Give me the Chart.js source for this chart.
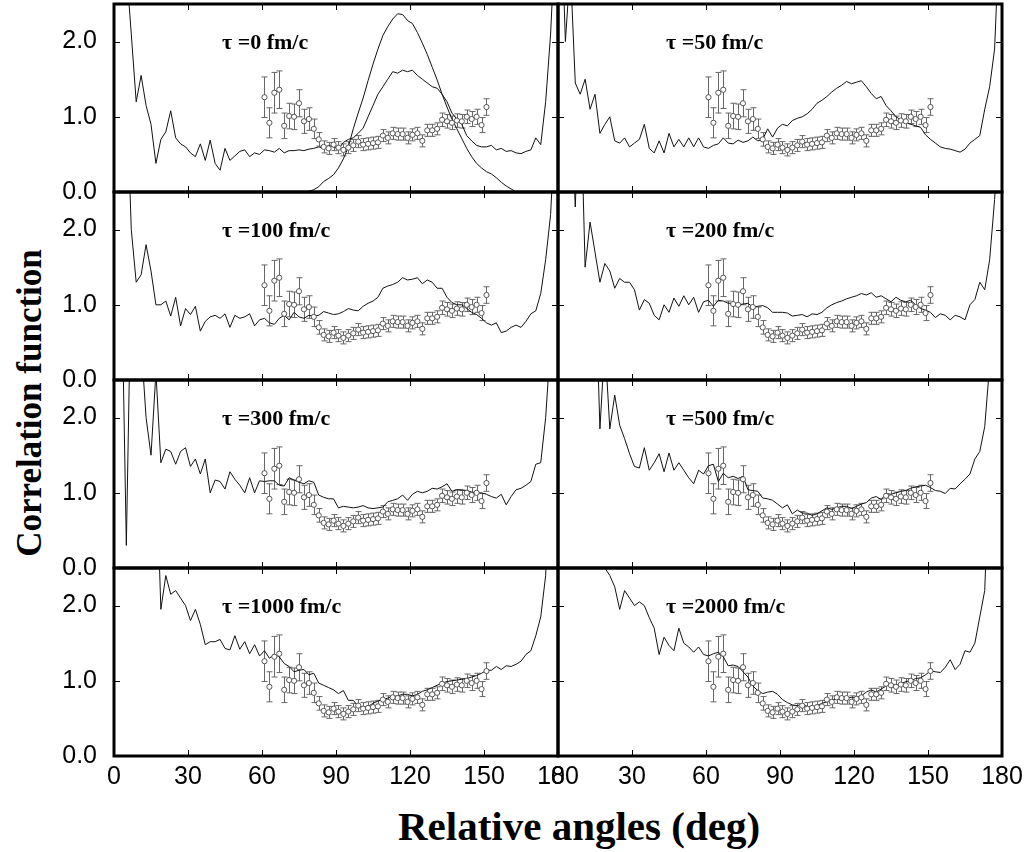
<!DOCTYPE html>
<html>
<head>
<meta charset="utf-8">
<script src="https://cdn.jsdelivr.net/npm/chart.js@4.4.1/dist/chart.umd.min.js"></script>
<style>
  body { margin: 0; background: #fff; width: 1030px; height: 852px; position: relative; overflow: hidden; }
  canvas { position: absolute; }
  .axis-title { position: absolute; font-family: "Liberation Serif", "Times New Roman", serif; font-weight: bold; color: #000; white-space: nowrap; }
</style>
</head>
<body>
<div class="axis-title" id="xTitle" style="left:579px; top:826px; font-size:41px; transform:translate(-50%,-50%);">Relative angles (deg)</div>
<div class="axis-title" id="yTitle" style="left:30px; top:403px; font-size:35px; transform:translate(-50%,-50%) rotate(-90deg);">Correlation function</div>
<script>
// angles of the simulated curves (deg)
const angles = [
  1, 3, 5, 7, 9, 11, 13, 15, 17, 19,
  21, 23, 25, 27, 29, 31, 33, 35, 37, 39,
  41, 43, 45, 47, 49, 51, 53, 55, 57, 59,
  61, 63, 65, 67, 69, 71, 73, 75, 77, 79,
  81, 83, 85, 87, 89, 91, 93, 95, 97, 99,
  101, 103, 105, 107, 109, 111, 113, 115, 117, 119,
  121, 123, 125, 127, 129, 131, 133, 135, 137, 139,
  141, 143, 145, 147, 149, 151, 153, 155, 157, 159,
  161, 163, 165, 167, 169, 171, 173, 175, 177, 179
];

const tau0 = [
  4, 4, 3.0, 2.1, 1.2, 1.55, 1.15, 0.9, 0.38, 0.7,
  0.8, 1.08, 0.72, 0.64, 0.6, 0.52, 0.47, 0.64, 0.42, 0.69,
  0.38, 0.29, 0.58, 0.42, 0.48, 0.54, 0.56, 0.47, 0.52, 0.5,
  0.56, 0.55, 0.53, 0.58, 0.52, 0.55, 0.55, 0.56, 0.55, 0.57,
  0.58, 0.6, 0.58, 0.62, 0.6, 0.57, 0.66, 0.7, 0.72, 0.78,
  0.85, 1.0, 1.15, 1.3, 1.4, 1.5, 1.6, 1.58, 1.62, 1.6,
  1.62, 1.55, 1.5, 1.45, 1.4, 1.38, 1.3, 1.2, 1.05, 0.97,
  0.9, 0.75, 0.68, 0.62, 0.6, 0.6, 0.62, 0.56, 0.58, 0.54,
  0.55, 0.52, 0.51, 0.54, 0.56, 0.72, 0.63, 1.2, 2.1, 3.5
];
// second curve of the first panel
const tau0Peak = [
  null, null, null, null, null, null, null, null, null, null,
  null, null, null, null, null, null, null, null, null, null,
  null, null, null, null, null, null, null, null, null, null,
  null, null, null, null, null, null, null, null, 0.0, 0.01,
  0.03, 0.07, 0.14, 0.18, 0.23, 0.32, 0.44, 0.6, 0.84, 1.05,
  1.25, 1.48, 1.7, 1.9, 2.08, 2.2, 2.3, 2.37, 2.36, 2.28,
  2.24, 2.12, 1.98, 1.83, 1.66, 1.49, 1.3, 1.13, 0.97, 0.84,
  0.71, 0.58, 0.47, 0.38, 0.32, 0.27, 0.24, 0.19, 0.13, 0.08,
  0.04, 0.0, null, null, null, null, null, null, null, null
];
const tau50 = [
  4, 2.0, 3.0, 1.45, 1.3, 1.5, 1.1, 1.3, 0.78, 0.9,
  1.0, 0.68, 0.65, 0.72, 0.6, 0.65, 0.7, 0.9, 0.58, 0.52,
  0.68, 0.52, 0.78, 0.6, 0.7, 0.6, 0.72, 0.6, 0.72, 0.6,
  0.58, 0.62, 0.64, 0.72, 0.65, 0.64, 0.69, 0.66, 0.68, 0.73,
  0.68, 0.7, 0.84, 0.73, 0.85, 0.9, 0.88, 0.95, 0.98, 1.0,
  1.04, 1.1, 1.18, 1.22, 1.27, 1.33, 1.38, 1.42, 1.47, 1.44,
  1.46, 1.48, 1.4, 1.31, 1.24, 1.27, 1.15, 1.08, 1.0, 0.96,
  0.92, 0.9, 0.88, 0.86, 0.76, 0.7, 0.65, 0.6, 0.58, 0.57,
  0.55, 0.53, 0.57, 0.65, 0.7, 0.75, 1.1, 1.4, 1.9, 3.5
];
const tau100 = [
  4, 4, 4, 2.0, 1.3, 1.4, 1.8, 1.45, 1.0, 1.0,
  1.05, 0.85, 1.1, 0.72, 0.95, 0.87, 0.98, 0.65, 0.78, 0.84,
  0.86, 0.82, 0.88, 0.7, 0.86, 0.82, 0.84, 0.88, 0.72, 0.8,
  0.82, 0.76, 0.74, 0.82, 0.86, 0.8, 0.9, 0.84, 0.82, 0.86,
  0.85, 0.86, 0.91, 0.89, 0.87, 0.88, 0.91, 0.95, 0.93, 0.92,
  0.98, 1.02, 1.05, 1.1, 1.22, 1.25, 1.27, 1.3, 1.36, 1.33,
  1.34, 1.36, 1.28, 1.33, 1.3, 1.22, 1.22, 1.1, 1.03, 1.0,
  1.0, 0.95, 0.9, 0.87, 0.82, 0.76, 0.73, 0.76, 0.63, 0.65,
  0.7, 0.73, 0.7, 0.78, 0.88, 0.92, 1.15, 1.6, 2.2, 3.5
];
const tau200 = [
  4, 4, 4, 2.3, 4, 1.5, 2.1, 1.7, 1.3, 1.55,
  1.45, 1.22, 1.35, 1.3, 1.3, 1.2, 0.93, 1.07, 1.02, 0.86,
  0.8, 1.0, 0.9, 1.09, 0.98, 1.12, 1.0, 1.1, 0.9, 1.04,
  1.06, 0.98, 1.06, 1.05, 1.02, 1.02, 1.0, 1.01, 1.02, 0.97,
  0.98, 0.99, 0.96, 0.9, 0.9, 0.9, 0.89, 0.85, 0.86, 0.87,
  0.84, 0.88, 0.87, 0.9, 0.96, 1.0, 1.03, 1.05, 1.08, 1.1,
  1.12, 1.15, 1.13, 1.16, 1.1, 1.12, 1.08, 1.04, 1.1, 1.06,
  1.04, 1.06, 1.0, 0.95, 0.93, 0.9, 0.83, 0.88, 0.86, 0.8,
  0.86, 0.84, 0.8, 1.0, 1.07, 1.3, 1.2, 1.6, 2.4, 3.5
];
const tau300 = [
  4, 4, 0.3, 4, 4, 3.0, 2.0, 1.5, 2.6, 1.4,
  1.58, 1.55, 1.38, 1.55, 1.6, 1.35, 1.45, 1.25, 1.45, 1.0,
  1.17, 1.15, 1.05, 1.28, 1.18, 1.1, 1.0, 1.2, 1.0, 1.16,
  1.15, 1.16, 1.16, 1.1, 1.09, 1.2, 1.17, 1.14, 1.12, 1.16,
  1.14, 0.97, 0.94, 0.92, 0.92, 0.8, 0.82, 0.81, 0.8, 0.81,
  0.83, 0.8, 0.79, 0.8, 0.81, 0.88, 0.9, 0.92, 0.97, 0.9,
  0.98, 1.02, 1.0, 1.02, 1.06, 1.05, 1.08, 1.12, 1.02, 1.04,
  1.04, 1.03, 1.01, 1.0, 1.0, 0.98, 0.95, 0.93, 0.98, 0.84,
  0.95, 1.04, 1.06, 1.1, 1.15, 1.38, 1.4, 2.0, 3.0, 4
];
const tau500 = [
  4, 4, 4, 4, 4, 4, 4, 4, 1.85, 3.0,
  1.85, 2.3, 1.9, 1.72, 1.52, 1.35, 1.33, 1.6, 1.3, 1.4,
  1.52, 1.28, 1.53, 1.3, 1.4, 1.3, 1.2, 1.12, 1.3, 1.25,
  1.36, 1.38, 1.15, 1.26, 1.2, 1.22, 1.19, 1.22, 1.04, 1.03,
  1.02, 0.93, 0.92, 0.9, 0.85, 0.8, 0.84, 0.72, 0.77, 0.73,
  0.73, 0.7, 0.72, 0.76, 0.8, 0.78, 0.8, 0.82, 0.82, 0.79,
  0.82, 0.85, 0.87, 0.93, 0.95, 0.91, 0.99, 0.98, 1.0, 1.02,
  1.03, 1.06, 1.08, 1.09, 1.1, 1.07, 1.03, 1.02, 0.99, 1.06,
  1.05, 1.12, 1.18, 1.25, 1.45, 1.55, 1.88, 2.7, 4, 4
];
const tau1000 = [
  4, 4, 4, 4, 4, 4, 4, 4, 4, 1.95,
  2.4, 2.15, 2.2, 2.1, 2.0, 1.8, 1.95, 1.75, 1.48, 1.52,
  1.52, 1.55, 1.43, 1.41, 1.6, 1.42, 1.52, 1.36, 1.48, 1.33,
  1.4, 1.3, 1.35, 1.32, 1.23, 1.19, 1.12, 1.14, 1.15, 1.08,
  1.1, 0.97, 0.94, 0.91, 0.88, 0.83, 0.87, 0.74, 0.74, 0.66,
  0.65, 0.66, 0.7, 0.73, 0.75, 0.77, 0.79, 0.8, 0.82, 0.82,
  0.8, 0.82, 0.86, 0.88, 0.91, 0.94, 0.97, 0.99, 1.0, 1.01,
  1.02, 1.03, 1.05, 1.07, 1.1, 1.14, 1.14, 1.19, 1.15, 1.2,
  1.19, 1.22, 1.26, 1.35, 1.4, 1.6, 1.85, 2.4, 4, 4
];
const tau2000 = [
  4, 4, 4, 4, 4, 4, 4, 4, 2.7, 2.5,
  2.4, 2.25, 1.95, 2.2, 2.1, 2.0, 2.05, 2.0, 1.84, 1.7,
  1.35, 1.58, 1.47, 1.4, 1.7, 1.5, 1.45, 1.38, 1.45, 1.35,
  1.33, 1.36, 1.38, 1.32, 1.2, 1.21, 1.19, 1.12, 1.05, 0.93,
  0.87, 0.83, 0.85, 0.86, 0.82, 0.75, 0.71, 0.68, 0.67, 0.69,
  0.66, 0.65, 0.67, 0.7, 0.72, 0.74, 0.76, 0.74, 0.77, 0.78,
  0.78, 0.8, 0.85, 0.88, 0.85, 0.89, 0.93, 0.96, 0.94, 0.96,
  0.99, 1.0, 1.03, 1.04, 1.08, 1.13, 1.12, 1.11, 1.18, 1.28,
  1.15, 1.22, 1.4, 1.38, 1.5, 1.85, 2.2, 4, 4, 4
];

// measured points, the same in every panel
const expAngles = [
  61, 63, 65, 67, 69, 71, 73, 75, 77, 79,
  81, 83, 85, 87, 89, 91, 93, 95, 97, 99,
  101, 103, 105, 107, 109, 111, 113, 115, 117, 119,
  121, 123, 125, 127, 129, 131, 133, 135, 137, 139,
  141, 143, 145, 147, 149, 151
];
const expValues = [
  1.26, 0.92, 1.32, 1.36, 0.88, 1.01, 1.0, 1.18, 0.94, 0.97,
  0.84, 0.7, 0.6, 0.58, 0.63, 0.59, 0.56, 0.59, 0.62, 0.67,
  0.63, 0.64, 0.65, 0.66, 0.75, 0.72, 0.78, 0.77, 0.77, 0.72,
  0.76, 0.78, 0.68, 0.82, 0.82, 0.84, 0.96, 0.94, 0.92, 0.95,
  0.94, 1.0, 0.97, 1.0, 0.89, 1.13
];
const expErrors = [
  0.27, 0.2, 0.27, 0.25, 0.17, 0.17, 0.17, 0.18, 0.16, 0.15,
  0.13, 0.09, 0.08, 0.08, 0.08, 0.08, 0.08, 0.08, 0.08, 0.08,
  0.08, 0.08, 0.08, 0.08, 0.08, 0.08, 0.08, 0.08, 0.08, 0.08,
  0.08, 0.08, 0.08, 0.08, 0.08, 0.08, 0.09, 0.09, 0.09, 0.09,
  0.09, 0.09, 0.1, 0.1, 0.1, 0.11
];

const tauLabels = ['τ =0 fm/c', 'τ =50 fm/c', 'τ =100 fm/c', 'τ =200 fm/c',
                   'τ =300 fm/c', 'τ =500 fm/c', 'τ =1000 fm/c', 'τ =2000 fm/c'];
const xTicks = [0, 30, 60, 90, 120, 150, 180];
const yTicks = [0, 1, 2];

const panels = [
  [tau0, tau0Peak], [tau50], [tau100], [tau200],
  [tau300], [tau500], [tau1000], [tau2000]
];

// layout of the 4x2 grid
const COL_X = [114, 558], ROW_Y = [4, 192, 380, 568];
const PLOT_W = 444, PLOT_H = 188;
const PAD_L = 110, PAD_R = 30, PAD_T = 20, PAD_B = 60;

Chart.defaults.font.family = '"Liberation Sans", Arial, Helvetica, sans-serif';
Chart.defaults.color = '#000';

const errorBars = {
  id: 'errorBars',
  beforeDatasetsDraw(chart) {
    const { ctx, scales: { x, y } } = chart;
    ctx.save();
    ctx.strokeStyle = '#666';
    ctx.lineWidth = 1;
    ctx.beginPath();
    expAngles.forEach((a, k) => {
      const px = Math.round(x.getPixelForValue(a)) + 0.5;
      const top = y.getPixelForValue(expValues[k] + expErrors[k]);
      const bot = y.getPixelForValue(expValues[k] - expErrors[k]);
      ctx.moveTo(px, top); ctx.lineTo(px, bot);
      ctx.moveTo(px - 3, top); ctx.lineTo(px + 3, top);
      ctx.moveTo(px - 3, bot); ctx.lineTo(px + 3, bot);
    });
    ctx.stroke();
    ctx.restore();
  }
};

const frame = {
  id: 'frame',
  afterDraw(chart, args, opts) {
    const { ctx, chartArea: { left, top, right, bottom }, scales: { x, y } } = chart;
    ctx.save();
    ctx.strokeStyle = '#000';
    ctx.lineWidth = 1;
    ctx.beginPath();
    xTicks.slice(1, -1).forEach(v => {
      const px = Math.round(x.getPixelForValue(v)) + 0.5;
      ctx.moveTo(px, top); ctx.lineTo(px, top + 6);
      ctx.moveTo(px, bottom); ctx.lineTo(px, bottom - 6);
    });
    yTicks.slice(1).forEach(v => {
      const py = Math.round(y.getPixelForValue(v)) + 0.5;
      ctx.moveTo(left, py); ctx.lineTo(left + 6, py);
      ctx.moveTo(right, py); ctx.lineTo(right - 6, py);
    });
    ctx.stroke();
    ctx.lineWidth = 3;
    ctx.strokeRect(left, top, right - left, bottom - top);
    ctx.font = 'bold 22px "Liberation Serif", "Times New Roman", serif';
    ctx.fillStyle = '#000';
    ctx.textBaseline = 'middle';
    ctx.fillText(opts.label, left + 108, top + 39);
    ctx.restore();
  }
};

panels.forEach((series, i) => {
  const row = Math.floor(i / 2), col = i % 2;
  const cv = document.createElement('canvas');
  cv.width = PLOT_W + PAD_L + PAD_R;
  cv.height = PLOT_H + PAD_T + PAD_B;
  cv.style.left = (COL_X[col] - PAD_L) + 'px';
  cv.style.top = (ROW_Y[row] - PAD_T) + 'px';
  document.body.appendChild(cv);

  const datasets = [{
    data: expAngles.map((a, k) => ({ x: a, y: expValues[k] })),
    showLine: false,
    pointRadius: 2.6,
    pointBorderWidth: 1,
    pointBorderColor: '#555',
    pointBackgroundColor: '#fff'
  }];
  series.forEach(s => {
    datasets.push({
      data: angles.map((a, k) => ({ x: a, y: s[k] })),
      showLine: true,
      spanGaps: false,
      pointRadius: 0,
      borderColor: '#111',
      borderWidth: 1
    });
  });

  new Chart(cv.getContext('2d'), {
    type: 'scatter',
    data: { datasets: datasets },
    options: {
      responsive: false,
      animation: false,
      events: [],
      layout: { padding: { left: 0, right: PAD_R, top: PAD_T, bottom: 0 } },
      plugins: {
        legend: { display: false },
        tooltip: { enabled: false },
        frame: { label: tauLabels[i] }
      },
      scales: {
        x: {
          type: 'linear', min: 0, max: 180,
          afterBuildTicks: s => { s.ticks = xTicks.map(v => ({ value: v })); },
          afterFit: s => { s.height = PAD_B; s.paddingLeft = 0; s.paddingRight = 0; },
          grid: { display: false, drawTicks: false },
          border: { display: false },
          ticks: { display: row === 3, padding: 6, autoSkip: false, maxRotation: 0, font: { size: 25 }, color: '#000' }
        },
        y: {
          type: 'linear', min: 0, max: 2.5,
          afterBuildTicks: s => { s.ticks = yTicks.map(v => ({ value: v })); },
          afterFit: s => { s.width = PAD_L; s.paddingTop = 0; s.paddingBottom = 0; },
          grid: { display: false, drawTicks: false },
          border: { display: false },
          ticks: { display: col === 0, padding: 17, font: { size: 25 }, color: '#000', callback: v => v.toFixed(1) }
        }
      }
    },
    plugins: [errorBars, frame]
  });
});
</script>
</body>
</html>
